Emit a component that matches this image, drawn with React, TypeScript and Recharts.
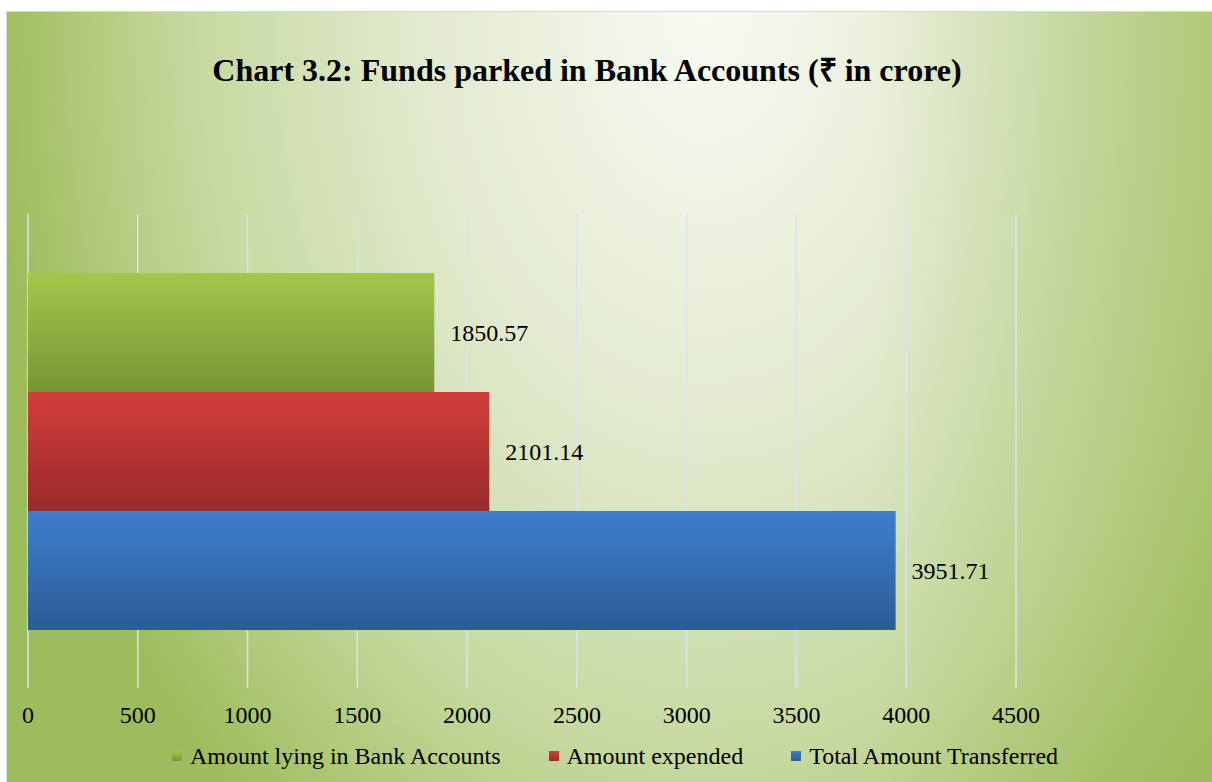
import React from 'react';
import { BarChart, Bar, XAxis, YAxis, CartesianGrid, LabelList } from 'recharts';

const categories = ['Funds'];
const seriesNames = ['Amount lying in Bank Accounts', 'Amount expended', 'Total Amount Transferred'];
const lyingValues = [1850.57];
const expendedValues = [2101.14];
const transferredValues = [3951.71];
const xTicks = [0, 500, 1000, 1500, 2000, 2500, 3000, 3500, 4000, 4500];

const seriesKeys = ['lying', 'expended', 'transferred'];
// top / bottom colours of each bar's gradient
const seriesColors = [
  ['#a2c74b', '#779634'],
  ['#d13e3a', '#992b2b'],
  ['#3e7ecd', '#2c5c97'],
];

const data = categories.map((name, i) => ({
  name,
  lying: lyingValues[i],
  expended: expendedValues[i],
  transferred: transferredValues[i],
}));

const FONT = '"Liberation Serif", "Times New Roman", serif';

const App: React.FC = () => {
  return (
    <div
      style={{
        position: 'absolute',
        left: 6,
        top: 11,
        width: 1206,
        height: 771,
        borderLeft: '1px solid #d4dbe3',
        borderTop: '1px solid #d4dbe3',
        boxSizing: 'border-box',
        background:
          'linear-gradient(to right, rgba(157,188,91,0) 72%, rgba(157,188,91,0.55) 100%), ' +
          'radial-gradient(ellipse 720px 1050px at 700px 0px, #f8faf3 0%, #e2eacf 40%, #c6d89e 72%, #9dbc5b 100%)',
        fontFamily: FONT,
      }}
    >
      <div
        style={{
          position: 'absolute',
          left: 0,
          top: 40,
          width: 1160,
          textAlign: 'center',
          fontWeight: 'bold',
          fontSize: 32,
          lineHeight: '36px',
          color: '#000',
        }}
      >
        Chart 3.2: Funds parked in Bank Accounts (₹ in crore)
      </div>

      <div style={{ position: 'absolute', left: -1, top: -1 }}>
        <BarChart
          width={1206}
          height={771}
          data={data}
          layout="vertical"
          barGap={0}
          barCategoryGap={59}
          margin={{ top: 203, right: 196, left: 22, bottom: 54 }}
        >
          <defs>
            {seriesKeys.map((k, i) => (
              <linearGradient key={k} id={`grad-${k}`} x1="0" y1="0" x2="0" y2="1">
                <stop offset="0%" stopColor={seriesColors[i][0]} />
                <stop offset="100%" stopColor={seriesColors[i][1]} />
              </linearGradient>
            ))}
          </defs>
          <CartesianGrid horizontal={false} stroke="#dae4ef" strokeWidth={1.5} />
          <XAxis
            type="number"
            domain={[0, 4500]}
            ticks={xTicks}
            axisLine={false}
            tickLine={false}
            tickSize={0}
            tickMargin={18}
            height={40}
            tick={{ fill: '#000', fontSize: 24, fontFamily: FONT }}
          />
          <YAxis type="category" dataKey="name" hide />
          {seriesKeys.map((k, i) => (
            <Bar key={k} dataKey={k} name={seriesNames[i]} fill={`url(#grad-${k})`} isAnimationActive={false}>
              <LabelList
                dataKey={k}
                position="right"
                offset={16}
                fill="#000"
                fontSize={24}
                fontFamily={FONT}
              />
            </Bar>
          ))}
        </BarChart>
      </div>

      {/* legend */}
      <div
        style={{
          position: 'absolute',
          left: 10,
          top: 730,
          width: 1196,
          display: 'flex',
          justifyContent: 'center',
          fontSize: 24,
          lineHeight: '28px',
          color: '#000',
        }}
      >
        {seriesNames.map((n, i) => (
          <div key={n} style={{ display: 'flex', alignItems: 'center', marginRight: i < 2 ? 48 : 0 }}>
            <span
              style={{
                display: 'inline-block',
                width: 10,
                height: 10,
                marginRight: 8,
                background: `linear-gradient(${seriesColors[i][0]}, ${seriesColors[i][1]})`,
              }}
            />
            <span>{n}</span>
          </div>
        ))}
      </div>
    </div>
  );
};

export default App;
